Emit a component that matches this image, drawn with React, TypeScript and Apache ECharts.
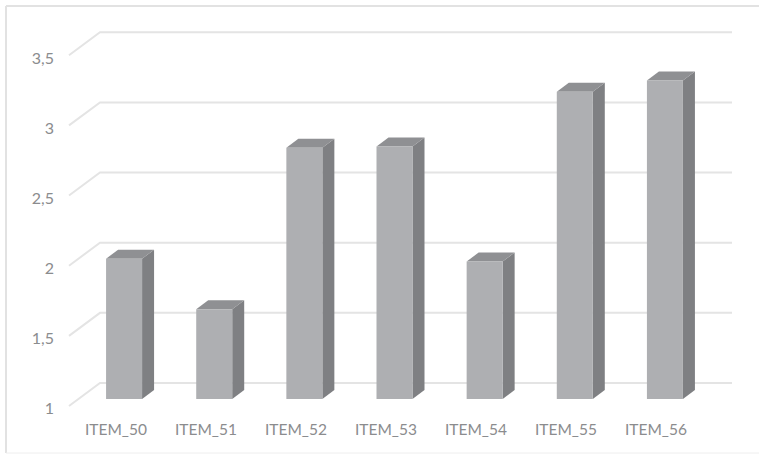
import React, { useEffect, useRef } from "react";
import * as echarts from "echarts";

const categories = ["ITEM_50", "ITEM_51", "ITEM_52", "ITEM_53", "ITEM_54", "ITEM_55", "ITEM_56"];
const values = [2.0, 1.64, 2.79, 2.8, 1.98, 3.19, 3.27];
const gridValues = [1, 1.5, 2, 2.5, 3, 3.5];

const FRONT = "#aeafb2";
const SIDE = "#7f8083";
const TOP = "#8f9093";
const WALL = "#e4e4e4";
const TEXT = "#8b8c8e";
const BORDER = "#e2e2e2";
const BAR_WIDTH = 36;
const DEPTH_X = 12;
const DEPTH_Y = 9;

export default function App() {
  const ref = useRef<HTMLDivElement>(null);

  useEffect(() => {
    const chart = echarts.init(ref.current!, undefined, { renderer: "svg" });
    const font = { fontFamily: "Lato", fontSize: 15.5, color: TEXT };

    chart.setOption({
      animation: false,
      backgroundColor: "#ffffff",
      // Grid 0 carries the axis labels on the front edge of the floor,
      // grid 1 is the plane the bar fronts stand on.
      grid: [
        { left: 71, right: 58, top: 57, bottom: 47 },
        { left: 79, right: 49, top: 48.25, bottom: 55 },
      ],
      xAxis: [
        {
          type: "category",
          gridIndex: 0,
          data: categories,
          axisLine: { show: false },
          axisTick: { show: false },
          axisLabel: { ...font, margin: 14, interval: 0 },
        },
        { type: "category", gridIndex: 1, data: categories, show: false },
      ],
      yAxis: [
        {
          type: "value",
          gridIndex: 0,
          min: 1,
          max: 3.5,
          interval: 0.5,
          axisLine: { show: false },
          axisTick: { show: false },
          splitLine: { show: false },
          axisLabel: {
            ...font,
            fontSize: 16,
            margin: 17,
            formatter: (v: number) => String(v).replace(".", ","),
          },
        },
        {
          type: "value",
          gridIndex: 1,
          min: 1,
          max: 3.5,
          interval: 0.5,
          show: false,
          splitLine: { show: false },
        },
      ],
      graphic: [
        // Chart-area frame along the top, left and bottom edges.
        { type: "line", shape: { x1: 6, y1: 6, x2: 759, y2: 6 }, style: { stroke: BORDER, lineWidth: 2 } },
        { type: "line", shape: { x1: 6, y1: 6, x2: 6, y2: 453 }, style: { stroke: BORDER, lineWidth: 2 } },
        { type: "line", shape: { x1: 6, y1: 453, x2: 759, y2: 453 }, style: { stroke: "#eeeeee", lineWidth: 1 } },
      ],
      series: [
        {
          // Gridlines: a diagonal across the floor side wall, then along the back wall.
          type: "custom",
          xAxisIndex: 1,
          yAxisIndex: 1,
          z: 1,
          clip: false,
          silent: true,
          encode: { x: 0, y: 1 },
          data: gridValues.map((v) => [0, v]),
          renderItem: (params: any, api: any) => {
            const y = api.coord([0, api.value(1)])[1];
            const left = params.coordSys.x;
            const right = left + params.coordSys.width;
            return {
              type: "polyline",
              shape: {
                points: [
                  [left - 10, y + 7],
                  [left + 21, y - 16],
                  [right + 22, y - 16],
                ],
              },
              style: { stroke: WALL, lineWidth: 2, fill: "none" },
            };
          },
        },
        {
          // Extruded columns: front face, right side and top.
          type: "custom",
          xAxisIndex: 1,
          yAxisIndex: 1,
          z: 2,
          clip: false,
          silent: true,
          encode: { x: 0, y: 1 },
          data: values.map((v, i) => [i, v]),
          renderItem: (_params: any, api: any) => {
            const [cx, top] = api.coord([api.value(0), api.value(1)]);
            const bottom = api.coord([api.value(0), 1])[1];
            const l = cx - BAR_WIDTH / 2;
            const r = cx + BAR_WIDTH / 2;
            return {
              type: "group",
              children: [
                {
                  type: "polygon",
                  shape: {
                    points: [
                      [r, top],
                      [r + DEPTH_X, top - DEPTH_Y],
                      [r + DEPTH_X, bottom - DEPTH_Y],
                      [r, bottom],
                    ],
                  },
                  style: { fill: SIDE },
                },
                {
                  type: "polygon",
                  shape: {
                    points: [
                      [l, top],
                      [l + DEPTH_X, top - DEPTH_Y],
                      [r + DEPTH_X, top - DEPTH_Y],
                      [r, top],
                    ],
                  },
                  style: { fill: TOP },
                },
                {
                  type: "rect",
                  shape: { x: l, y: top, width: BAR_WIDTH, height: bottom - top },
                  style: { fill: FRONT },
                },
              ],
            };
          },
        },
      ],
    });

    return () => chart.dispose();
  }, []);

  return <div ref={ref} style={{ position: "absolute", left: 0, top: 0, width: 759, height: 454 }} />;
}
